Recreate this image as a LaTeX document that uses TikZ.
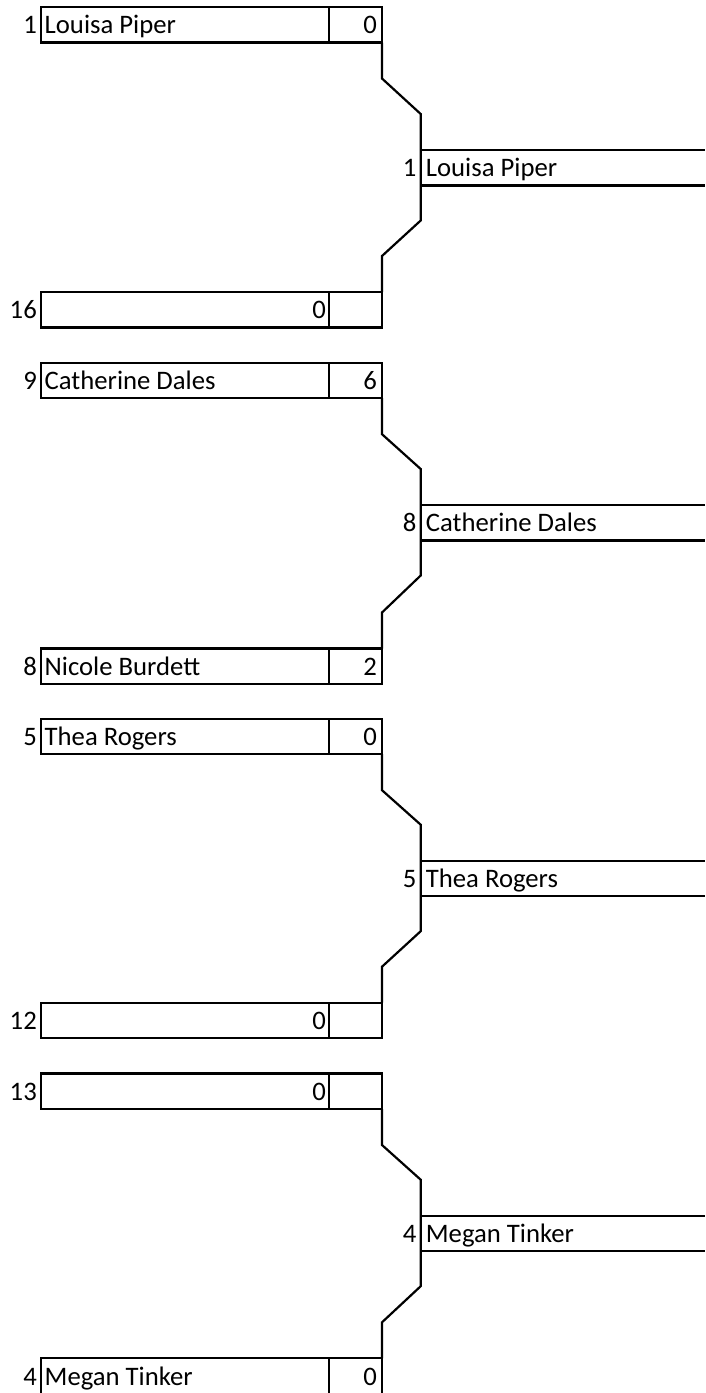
\documentclass[tikz,border=0pt]{standalone}
\usepackage{fontspec}
\setmainfont{Carlito}
\usetikzlibrary{calc}
\tikzset{
  cell/.style={draw, line width=2.2pt, minimum height=35.5pt, inner sep=0pt, outer sep=0pt, anchor=north west},
  namecell/.style={cell, minimum width=288pt},
  scorecell/.style={cell, minimum width=53pt},
  wincell/.style={inner sep=0pt, outer sep=0pt, minimum height=35.5pt, minimum width=284.3pt, anchor=north west},
  txt/.style={inner sep=0pt, font=\fontsize{26.7}{32}\selectfont},
  seedtxt/.style={txt, anchor=base east},
  nametxt/.style={txt, anchor=base west},
  numtxt/.style={txt, anchor=base east},
  conn/.style={line width=2.2pt, line join=miter}
}
% #1 id, #2 y top, #3 seed, #4 name, #5 score, #6 number in name cell
\newcommand\brkentry[6]{%
  \node[namecell] (#1) at (41,#2) {};
  \node[scorecell] (#1s) at (#1.north east) {};
  \node[seedtxt] (#1seed) at ($(#1.south west)+(-4,-8.7)$) {#3};
  \node[nametxt] (#1name) at ($(#1.south west)+(3.5,-8.7)$) {#4};
  \node[numtxt] (#1num) at ($(#1.south east)+(-3,-8.7)$) {#6};
  \node[numtxt] (#1score) at ($(#1s.south east)+(-5,-8.7)$) {#5};
}
% #1 id, #2 y top, #3 seed, #4 name
\newcommand\brkwinner[4]{%
  \node[wincell] (#1) at (420.7,#2) {};
  \node[seedtxt] (#1seed) at ($(#1.south west)+(-4,-8.7)$) {#3};
  \node[nametxt] (#1name) at ($(#1.south west)+(5,-8.7)$) {#4};
  \draw[conn] (#1.north west) -- (#1.north east);
  \draw[conn] (#1.south west) -- (#1.south east);
}
% #1 top entry, #2 winner, #3 bottom entry
\newcommand\brkconn[3]{%
  \draw[conn] (#1s.south east) -- ++(0,36) -- ($(#2.north west)+(0,-36)$) -- (#2.north west)
    -- (#2.south west) -- ++(0,35) -- ($(#3s.north east)+(0,-36)$) -- (#3s.north east);
}
\begin{document}
\begin{tikzpicture}[x=1pt,y=-1pt]
\useasboundingbox (0,0) rectangle (705,1393);
% group 1
\brkentry{a1}{7}{1}{Louisa Piper}{0}{}
\brkentry{b1}{292}{16}{}{}{0}
\brkwinner{w1}{150}{1}{Louisa Piper}
\brkconn{a1}{w1}{b1}
% group 2
\brkentry{a2}{362.7}{9}{Catherine Dales}{6}{}
\brkentry{b2}{648.5}{8}{Nicole Burdett}{2}{}
\brkwinner{w2}{505}{8}{Catherine Dales}
\brkconn{a2}{w2}{b2}
% group 3
\brkentry{a3}{718.7}{5}{Thea Rogers}{0}{}
\brkentry{b3}{1002.7}{12}{}{}{0}
\brkwinner{w3}{860.7}{5}{Thea Rogers}
\brkconn{a3}{w3}{b3}
% group 4
\brkentry{a4}{1073.5}{13}{}{}{0}
\brkentry{b4}{1358.3}{4}{Megan Tinker}{0}{}
\brkwinner{w4}{1215.7}{4}{Megan Tinker}
\brkconn{a4}{w4}{b4}
\end{tikzpicture}
\end{document}
